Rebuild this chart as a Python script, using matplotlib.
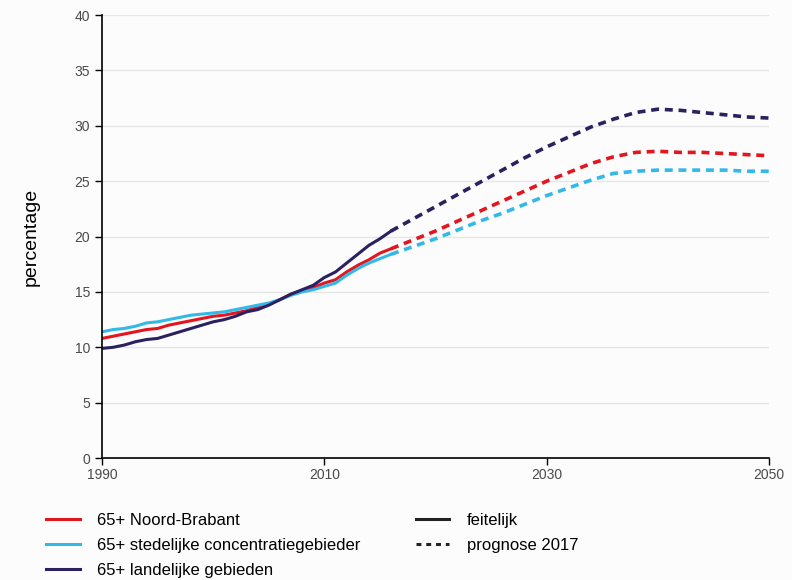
import matplotlib
matplotlib.use("Agg")
from matplotlib import pyplot as plt
from matplotlib.lines import Line2D

plt.rcParams["font.family"] = ["Liberation Sans", "DejaVu Sans"]

# observed 1990-2016
years_hist = list(range(1990, 2017))
nb_hist = [10.8, 11.0, 11.2, 11.4, 11.6, 11.7, 12.0, 12.2, 12.4, 12.6, 12.8, 12.9, 13.1, 13.3,
           13.6, 13.9, 14.3, 14.8, 15.1, 15.4, 15.8, 16.1, 16.8, 17.4, 17.9, 18.5, 18.9]
stad_hist = [11.4, 11.6, 11.7, 11.9, 12.2, 12.3, 12.5, 12.7, 12.9, 13.0, 13.1, 13.2, 13.4, 13.6,
             13.8, 14.0, 14.3, 14.7, 15.0, 15.2, 15.5, 15.8, 16.5, 17.1, 17.6, 18.0, 18.4]
land_hist = [9.9, 10.0, 10.2, 10.5, 10.7, 10.8, 11.1, 11.4, 11.7, 12.0, 12.3, 12.5, 12.8, 13.2,
             13.4, 13.8, 14.3, 14.8, 15.2, 15.6, 16.3, 16.8, 17.6, 18.4, 19.2, 19.8, 20.5]

# prognose 2017
years_prog = list(range(2016, 2051, 2))
nb_prog = [18.9, 19.7, 20.5, 21.4, 22.3, 23.2, 24.1, 25.0, 25.8, 26.6, 27.2, 27.6, 27.7, 27.6,
           27.6, 27.5, 27.4, 27.3]
stad_prog = [18.4, 19.1, 19.8, 20.6, 21.4, 22.1, 22.9, 23.7, 24.4, 25.1, 25.7, 25.9, 26.0, 26.0,
             26.0, 26.0, 25.9, 25.9]
land_prog = [20.5, 21.6, 22.7, 23.8, 24.9, 26.0, 27.1, 28.1, 29.0, 29.9, 30.6, 31.2, 31.5, 31.4,
             31.2, 31.0, 30.8, 30.7]

labels = ["65+ Noord-Brabant", "65+ stedelijke concentratiegebieder", "65+ landelijke gebieden"]
colors = ["#e3161f", "#33b9e8", "#2b2160"]

fig = plt.figure(figsize=(7.92, 5.8), dpi=100, facecolor="#fcfcfc")
ax = fig.add_axes([0.1288, 0.2103, 0.8422, 0.7637])
ax.set_facecolor("#fcfcfc")

series = [(nb_hist, nb_prog), (stad_hist, stad_prog), (land_hist, land_prog)]
for (hist, prog), color in zip(series, colors):
    ax.plot(years_hist, hist, color=color, lw=2.2, solid_capstyle="round")
    ax.plot(years_prog, prog, color=color, lw=2.6, dashes=(2.2, 1.6))

ax.set_xlim(1990, 2050)
ax.set_ylim(0, 40)
ax.set_xticks([1990, 2010, 2030, 2050])
ax.set_yticks(range(0, 41, 5))
ax.grid(axis="y", color="#e6e6e6", lw=1)
ax.set_axisbelow(True)
for side in ["top", "right"]:
    ax.spines[side].set_visible(False)
for side in ["left", "bottom"]:
    ax.spines[side].set_color("black")
    ax.spines[side].set_linewidth(1.2)
ax.tick_params(axis="both", colors="black", labelcolor="#4a4a4a", labelsize=10, length=5, width=1)
ax.tick_params(axis="x", pad=2)
ax.set_ylabel("percentage", fontsize=14, color="black", labelpad=25)

leg_kw = dict(loc="upper left", frameon=False, fontsize=12, handlelength=2.0,
              labelspacing=0.6, handletextpad=1.05, borderaxespad=0)

handles1 = [Line2D([], [], color=c, lw=2.2) for c in colors]
fig.legend(handles1, labels, bbox_to_anchor=(0.05, 0.127), **leg_kw)

handles2 = [Line2D([], [], color="#222222", lw=2.2),
            Line2D([], [], color="#222222", lw=2.2, dashes=(1.6, 1.6))]
fig.legend(handles2, ["feitelijk", "prognose 2017"], bbox_to_anchor=(0.517, 0.127), **leg_kw)

fig.savefig("out.png", dpi=100, facecolor=fig.get_facecolor())
